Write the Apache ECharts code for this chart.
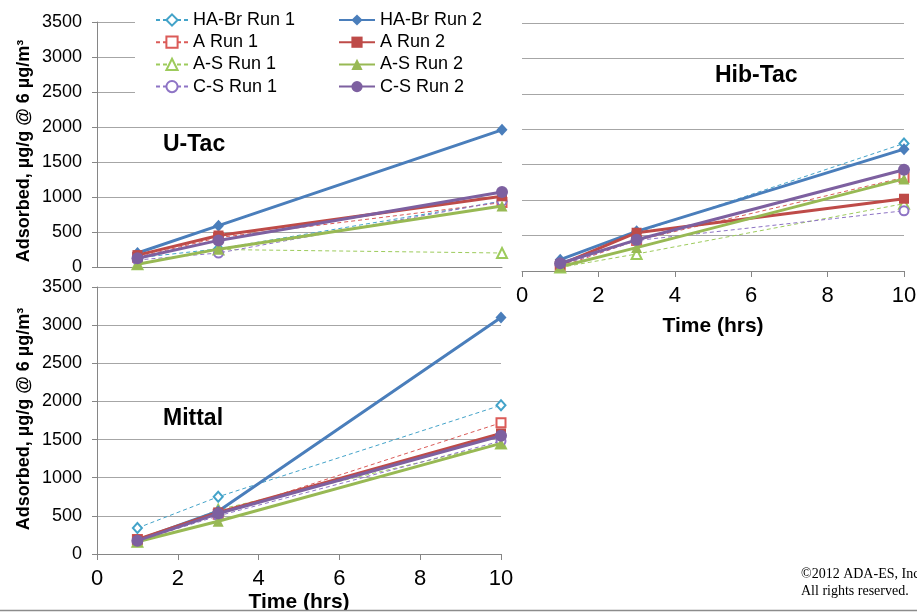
<!DOCTYPE html>
<html>
<head>
<meta charset="utf-8">
<script src="https://cdn.jsdelivr.net/npm/echarts@6/dist/echarts.min.js"></script>
<style>html,body{margin:0;padding:0;background:#fff;}#c{width:917px;height:613px;}</style>
</head>
<body>
<div id="c"></div>
<script>
// ---- data ----
const times = [1, 3, 10];
const seriesNames = ['HA-Br Run 1', 'HA-Br Run 2', 'A Run 1', 'A Run 2', 'A-S Run 1', 'A-S Run 2', 'C-S Run 1', 'C-S Run 2'];
const panelNames = ['U-Tac', 'Hib-Tac', 'Mittal'];
const xTicks = [0, 2, 4, 6, 8, 10];
const yTicks = [0, 500, 1000, 1500, 2000, 2500, 3000, 3500];

const uTacHABr1 = [130, 260, 940];
const uTacHABr2 = [200, 590, 1960];
const uTacA1 = [140, 420, 920];
const uTacA2 = [170, 450, 1010];
const uTacAS1 = [40, 250, 200];
const uTacAS2 = [40, 255, 870];
const uTacCS1 = [100, 200, 940];
const uTacCS2 = [125, 380, 1070];

const hibHABr1 = [100, 540, 1800];
const hibHABr2 = [160, 560, 1720];
const hibA1 = [60, 430, 1320];
const hibA2 = [90, 540, 1020];
const hibAS1 = [50, 240, 950];
const hibAS2 = [60, 330, 1300];
const hibCS1 = [80, 430, 850];
const hibCS2 = [110, 440, 1430];

const mitHABr1 = [340, 750, 1950];
const mitHABr2 = [180, 560, 3100];
const mitA1 = [190, 520, 1720];
const mitA2 = [190, 545, 1580];
const mitAS1 = [160, 580, 1450];
const mitAS2 = [160, 430, 1450];
const mitCS1 = [170, 500, 1480];
const mitCS2 = [175, 530, 1550];

const panelData = [
  [uTacHABr1, uTacHABr2, uTacA1, uTacA2, uTacAS1, uTacAS2, uTacCS1, uTacCS2],
  [hibHABr1, hibHABr2, hibA1, hibA2, hibAS1, hibAS2, hibCS1, hibCS2],
  [mitHABr1, mitHABr2, mitA1, mitA2, mitAS1, mitAS2, mitCS1, mitCS2]
];

// ---- styles ----
const styles = [
  {color: '#43A3C9', symbol: 'emptyDiamond', size: [9, 10], width: 1, dash: [4, 3]},
  {color: '#4A7EBB', symbol: 'diamond', size: [11, 12], width: 3, dash: 'solid'},
  {color: '#DB5B58', symbol: 'emptyRect', size: 9, width: 1, dash: [4, 3]},
  {color: '#BE4B48', symbol: 'rect', size: 10, width: 3, dash: 'solid'},
  {color: '#9DCB5C', symbol: 'emptyTriangle', size: 10, width: 1, dash: [4, 3]},
  {color: '#98B954', symbol: 'triangle', size: 11, width: 3, dash: 'solid'},
  {color: '#8E74C5', symbol: 'emptyCircle', size: 9, width: 1, dash: [4, 3]},
  {color: '#7D60A0', symbol: 'circle', size: 12, width: 3, dash: 'solid'}
];

const FONT = 'Liberation Sans, Arial, sans-serif';
const grids = [
  {left: 97, top: 22, width: 405, height: 245, outerBoundsMode: 'none', containLabel: false},
  {left: 522, top: 23, width: 382, height: 248, outerBoundsMode: 'none', containLabel: false},
  {left: 97, top: 287, width: 404, height: 267, outerBoundsMode: 'none', containLabel: false}
];
const nameGaps = [0, 45, 38];

const axisGray = '#868686';
const gridGray = '#A6A6A6';

const xAxes = grids.map((g, i) => ({
  type: 'value', gridIndex: i, min: xTicks[0], max: xTicks[xTicks.length - 1], interval: 2,
  axisLine: {show: true, lineStyle: {color: axisGray, width: 1}},
  axisTick: {show: i !== 0, length: 6, lineStyle: {color: axisGray}},
  axisLabel: {show: i !== 0, fontFamily: FONT, fontSize: 22, color: '#000', margin: 14},
  splitLine: {show: false},
  name: i !== 0 ? 'Time (hrs)' : '',
  nameLocation: 'middle', nameGap: nameGaps[i],
  nameTextStyle: {fontFamily: FONT, fontSize: 21, fontWeight: 'bold', color: '#000'}
}));

const yAxes = grids.map((g, i) => ({
  type: 'value', gridIndex: i, min: yTicks[0], max: yTicks[yTicks.length - 1], interval: 500,
  axisLine: {show: i !== 1, lineStyle: {color: axisGray, width: 1}},
  axisTick: {show: i !== 1, length: 5, lineStyle: {color: axisGray}},
  axisLabel: {show: i !== 1, fontFamily: FONT, fontSize: 18, color: '#000', margin: 15, formatter: v => String(v)},
  splitLine: {show: true, lineStyle: {color: gridGray, width: 1}}
}));

const series = [];
panelData.forEach((arrs, p) => {
  arrs.forEach((vals, k) => {
    const s = styles[k];
    series.push({
      name: seriesNames[k], type: 'line', xAxisIndex: p, yAxisIndex: p,
      data: times.map((t, j) => [t, vals[j]]),
      symbol: s.symbol, symbolSize: s.size, showAllSymbol: true,
      lineStyle: {color: s.color, width: s.width, type: s.dash},
      itemStyle: {color: s.color, borderWidth: s.width === 1 ? 1.2 : 0},
      emphasis: {disabled: true}, animation: false, z: s.width === 1 ? 2 : 3
    });
  });
});

const legendCommon = {
  orient: 'vertical', itemGap: 4.2, itemHeight: 14, padding: 0,
  textStyle: {fontFamily: FONT, fontSize: 18, color: '#000'},
  selectedMode: false, z: 5
};

const option = {
  animation: false,
  backgroundColor: '#fff',
  grid: grids,
  xAxis: xAxes,
  yAxis: yAxes,
  legend: [
    Object.assign({}, legendCommon, {left: 155, top: 11, itemWidth: 32, data: seriesNames.filter((n, i) => i % 2 === 0)}),
    Object.assign({}, legendCommon, {left: 338, top: 11, itemWidth: 36, data: seriesNames.filter((n, i) => i % 2 === 1)})
  ],
  series: series,
  graphic: [
    {type: 'rect', z: 4, shape: {x: 135, y: 8, width: 367, height: 89}, style: {fill: '#fff'}},
    {type: 'text', x: 163, y: 145, z: 5, style: {text: panelNames[0], font: 'bold 23px ' + FONT, fill: '#000', textVerticalAlign: 'middle'}},
    {type: 'text', x: 715, y: 76, z: 5, style: {text: panelNames[1], font: 'bold 23px ' + FONT, fill: '#000', textVerticalAlign: 'middle'}},
    {type: 'text', x: 163, y: 419, z: 5, style: {text: panelNames[2], font: 'bold 23px ' + FONT, fill: '#000', textVerticalAlign: 'middle'}},
    {type: 'text', x: 24, y: 151, rotation: Math.PI / 2, z: 5, style: {text: 'Adsorbed, µg/g @ 6 µg/m³', font: 'bold 18px ' + FONT, fill: '#000', textAlign: 'center', textVerticalAlign: 'middle'}},
    {type: 'text', x: 24, y: 419, rotation: Math.PI / 2, z: 5, style: {text: 'Adsorbed, µg/g @ 6 µg/m³', font: 'bold 18px ' + FONT, fill: '#000', textAlign: 'center', textVerticalAlign: 'middle'}},
    {type: 'text', x: 801, y: 574, z: 5, style: {text: '©2012 ADA-ES, Inc.', font: '14px Liberation Serif, Times New Roman, serif', fill: '#000', textVerticalAlign: 'middle'}},
    {type: 'text', x: 801, y: 591, z: 5, style: {text: 'All rights reserved.', font: '14px Liberation Serif, Times New Roman, serif', fill: '#000', textVerticalAlign: 'middle'}},
    {type: 'rect', z: 6, shape: {x: 0, y: 611, width: 917, height: 2}, style: {fill: '#fff'}},
    {type: 'line', z: 7, shape: {x1: 0, y1: 610.5, x2: 917, y2: 610.5}, style: {stroke: '#8C8C8C', lineWidth: 1.5}}
  ]
};

const chart = echarts.init(document.getElementById('c'), null, {renderer: 'canvas'});
chart.setOption(option);
</script>
</body>
</html>
